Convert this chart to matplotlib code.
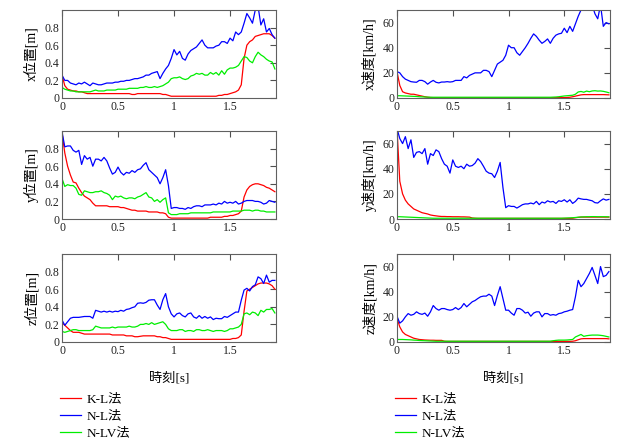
import numpy as np
import matplotlib
matplotlib.use('Agg')
import matplotlib.pyplot as plt
from matplotlib.ticker import FuncFormatter

plt.rcParams['font.family'] = ['Liberation Serif', 'Noto Sans CJK JP']

# time axis, 0.025 s steps
t = np.linspace(0, 1.9, 77)

# x position [m]
x_pos_kl = [0.26, 0.14, 0.10, 0.09, 0.08, 0.08, 0.07, 0.07, 0.06, 0.05,
            0.05, 0.05, 0.05, 0.05, 0.05, 0.05, 0.05, 0.05, 0.05, 0.05,
            0.05, 0.05, 0.05, 0.05, 0.05, 0.04, 0.04, 0.05, 0.05, 0.05,
            0.05, 0.05, 0.05, 0.05, 0.05, 0.05, 0.04, 0.04, 0.03, 0.02,
            0.02, 0.02, 0.02, 0.02, 0.02, 0.02, 0.02, 0.02, 0.02, 0.02,
            0.02, 0.02, 0.02, 0.02, 0.02, 0.02, 0.03, 0.03, 0.04, 0.04,
            0.05, 0.06, 0.07, 0.09, 0.15, 0.45, 0.60, 0.64, 0.66, 0.70,
            0.71, 0.72, 0.73, 0.73, 0.73, 0.71, 0.68]
x_pos_nl = [0.26, 0.20, 0.20, 0.17, 0.16, 0.15, 0.17, 0.16, 0.18, 0.16,
            0.14, 0.17, 0.16, 0.15, 0.15, 0.16, 0.17, 0.17, 0.17, 0.18,
            0.18, 0.19, 0.19, 0.20, 0.20, 0.21, 0.22, 0.22, 0.23, 0.24,
            0.26, 0.26, 0.28, 0.29, 0.30, 0.22, 0.28, 0.33, 0.37, 0.45,
            0.55, 0.49, 0.53, 0.45, 0.43, 0.50, 0.54, 0.56, 0.58, 0.62,
            0.66, 0.60, 0.57, 0.57, 0.57, 0.59, 0.60, 0.64, 0.64, 0.62,
            0.68, 0.65, 0.75, 0.72, 0.75, 0.85, 0.96, 0.91, 0.85, 1.00,
            1.04, 0.83, 0.90, 0.75, 0.79, 0.72, 0.68]
x_pos_nlv = [0.12, 0.10, 0.09, 0.08, 0.08, 0.07, 0.07, 0.07, 0.07, 0.07,
             0.07, 0.08, 0.09, 0.08, 0.08, 0.08, 0.09, 0.09, 0.09, 0.09,
             0.10, 0.10, 0.10, 0.10, 0.11, 0.11, 0.11, 0.11, 0.12, 0.12,
             0.13, 0.12, 0.12, 0.13, 0.12, 0.13, 0.14, 0.16, 0.18, 0.22,
             0.23, 0.23, 0.24, 0.22, 0.21, 0.22, 0.25, 0.26, 0.28, 0.27,
             0.28, 0.26, 0.26, 0.29, 0.27, 0.29, 0.26, 0.31, 0.27, 0.32,
             0.34, 0.34, 0.35, 0.37, 0.42, 0.47, 0.46, 0.42, 0.40, 0.47,
             0.52, 0.49, 0.47, 0.44, 0.42, 0.41, 0.33]

# x velocity [km/h]
x_vel_kl = [21, 10, 5, 4, 3.5, 3, 3, 2.5, 2, 1.5,
            1, 0.6, 0.4, 0.3, 0.3, 0.3, 0.3, 0.3, 0.3, 0.3,
            0.3, 0.3, 0.3, 0.3, 0.3, 0.3, 0.3, 0.3, 0.3, 0.3,
            0.3, 0.3, 0.3, 0.3, 0.3, 0.3, 0.3, 0.3, 0.3, 0.3,
            0.3, 0.3, 0.3, 0.3, 0.3, 0.3, 0.3, 0.3, 0.3, 0.3,
            0.3, 0.3, 0.3, 0.3, 0.3, 0.3, 0.3, 0.3, 0.3, 0.3,
            0.3, 0.4, 0.6, 1.0, 1.5, 2.0, 2.5, 2.7, 2.7, 2.7,
            2.7, 2.7, 2.7, 2.7, 2.7, 2.6, 2.5]
x_vel_nl = [21, 20, 17, 15, 14, 13, 12.7, 12.5, 14, 14,
            13, 11, 12.7, 14, 12.5, 12, 12.7, 12.7, 13, 12.7,
            13, 14, 14, 14, 17, 16, 18, 19, 20, 20,
            20, 22, 22, 21, 17, 22, 27, 28.5, 30, 34,
            42, 40, 40, 36, 34, 37, 40, 43.5, 47.5, 51,
            49, 46, 43.5, 45, 47, 43.5, 47.5, 50, 51, 51.5,
            55.5, 52, 57, 53, 59, 65, 70, 74, 71, 71,
            74, 67, 63, 74, 57, 60, 59]
x_vel_nlv = [1.8, 1.8, 1.7, 1.6, 1.5, 1.4, 1.3, 1.2, 1.0, 0.9,
             0.8, 0.7, 0.6, 0.6, 0.6, 0.6, 0.6, 0.6, 0.6, 0.6,
             0.6, 0.6, 0.6, 0.6, 0.6, 0.6, 0.6, 0.6, 0.6, 0.6,
             0.6, 0.6, 0.6, 0.6, 0.6, 0.6, 0.6, 0.6, 0.6, 0.6,
             0.6, 0.6, 0.6, 0.6, 0.6, 0.6, 0.6, 0.6, 0.6, 0.6,
             0.6, 0.6, 0.6, 0.6, 0.6, 0.6, 0.7, 0.8, 1.0, 1.3,
             1.6, 1.8, 2.0, 2.2, 3.0, 4.8, 5.2, 4.6, 5.5, 5.0,
             5.6, 5.8, 5.5, 5.6, 5.3, 4.8, 4.2]

# y position [m]
y_pos_kl = [0.98, 0.75, 0.60, 0.50, 0.42, 0.41, 0.35, 0.30, 0.26, 0.24,
            0.22, 0.18, 0.15, 0.15, 0.15, 0.15, 0.15, 0.14, 0.14, 0.14,
            0.14, 0.13, 0.13, 0.12, 0.11, 0.10, 0.10, 0.09, 0.09, 0.09,
            0.09, 0.08, 0.08, 0.08, 0.08, 0.07, 0.07, 0.06, 0.02, 0.01,
            0.01, 0.01, 0.01, 0.01, 0.01, 0.01, 0.01, 0.01, 0.01, 0.01,
            0.01, 0.01, 0.01, 0.02, 0.02, 0.02, 0.02, 0.02, 0.03, 0.03,
            0.04, 0.04, 0.05, 0.06, 0.09, 0.25, 0.33, 0.37, 0.39, 0.40,
            0.40, 0.39, 0.38, 0.36, 0.35, 0.33, 0.31]
y_pos_nl = [0.99, 0.82, 0.83, 0.83, 0.78, 0.76, 0.78, 0.62, 0.72, 0.68,
            0.70, 0.60, 0.68, 0.68, 0.66, 0.70, 0.66, 0.58, 0.51, 0.53,
            0.59, 0.53, 0.50, 0.53, 0.52, 0.55, 0.53, 0.56, 0.57, 0.61,
            0.64, 0.56, 0.53, 0.50, 0.47, 0.40, 0.47, 0.56, 0.38, 0.12,
            0.13, 0.13, 0.12, 0.12, 0.11, 0.13, 0.12, 0.14, 0.15, 0.15,
            0.14, 0.16, 0.16, 0.16, 0.17, 0.16, 0.18, 0.17, 0.20, 0.18,
            0.19, 0.18, 0.20, 0.17, 0.18, 0.20, 0.21, 0.21, 0.21, 0.20,
            0.20, 0.19, 0.17, 0.18, 0.21, 0.20, 0.19]
y_pos_nlv = [0.46, 0.37, 0.39, 0.38, 0.38, 0.35, 0.28, 0.27, 0.32, 0.31,
             0.30, 0.30, 0.31, 0.31, 0.32, 0.30, 0.29, 0.27, 0.22, 0.26,
             0.25, 0.26, 0.24, 0.23, 0.24, 0.24, 0.23, 0.25, 0.26, 0.28,
             0.30, 0.25, 0.24, 0.20, 0.22, 0.19, 0.22, 0.24, 0.07, 0.05,
             0.05, 0.05, 0.06, 0.06, 0.06, 0.06, 0.07, 0.07, 0.07, 0.07,
             0.07, 0.07, 0.07, 0.07, 0.08, 0.08, 0.08, 0.08, 0.08, 0.08,
             0.08, 0.09, 0.09, 0.09, 0.09, 0.10, 0.10, 0.10, 0.09, 0.10,
             0.10, 0.09, 0.09, 0.08, 0.08, 0.08, 0.08]

# y velocity [km/h]
y_vel_kl = [72, 30, 20, 15, 12, 10, 8, 7, 6, 5,
            4.5, 4, 3.2, 2.8, 2.5, 2.2, 2, 2, 1.9, 1.9,
            1.8, 1.8, 1.8, 1.7, 1.7, 1.6, 1.5, 0.8, 0.6, 0.5,
            0.5, 0.5, 0.5, 0.5, 0.5, 0.5, 0.5, 0.5, 0.5, 0.5,
            0.5, 0.5, 0.5, 0.5, 0.5, 0.5, 0.5, 0.5, 0.5, 0.5,
            0.5, 0.5, 0.5, 0.5, 0.5, 0.5, 0.5, 0.5, 0.5, 0.5,
            0.5, 0.5, 0.5, 0.6, 1.0, 1.3, 1.5, 1.5, 1.5, 1.5,
            1.5, 1.5, 1.5, 1.5, 1.5, 1.5, 1.5]
y_vel_nl = [72, 64, 60, 65.5, 56, 63, 49, 53, 53.6, 52,
            56, 43.6, 52, 50.5, 55, 53.6, 48, 43.6, 42, 36.5,
            47, 42, 41, 42, 40, 43.6, 42, 42.5, 44.4, 48,
            45.7, 42, 38, 36.5, 36, 33, 38, 45, 25, 9,
            10.6, 10, 10, 8.7, 10, 11.4, 12, 12, 12.7, 12,
            14, 11.4, 13.5, 12.7, 14.5, 13.5, 14, 12.4, 14.5, 14,
            15.3, 13.5, 15.3, 12.4, 14, 16.6, 16, 15.6, 15.6, 15,
            14.5, 13, 12.7, 14.5, 16, 15, 15.6]
y_vel_nlv = [1.8, 1.8, 1.7, 1.6, 1.5, 1.4, 1.3, 1.2, 1.1, 1.0,
             0.9, 0.8, 0.7, 0.6, 0.6, 0.6, 0.6, 0.6, 0.6, 0.6,
             0.6, 0.6, 0.6, 0.6, 0.6, 0.6, 0.6, 0.6, 0.6, 0.6,
             0.6, 0.6, 0.6, 0.6, 0.6, 0.6, 0.6, 0.6, 0.6, 0.6,
             0.6, 0.6, 0.6, 0.6, 0.6, 0.6, 0.6, 0.6, 0.6, 0.6,
             0.6, 0.6, 0.6, 0.6, 0.6, 0.6, 0.6, 0.6, 0.6, 0.6,
             0.7, 0.8, 0.9, 1.0, 1.2, 1.4, 1.6, 1.7, 1.8, 1.8,
             1.9, 1.9, 1.8, 1.8, 1.8, 1.8, 1.7]

# z position [m]
z_pos_kl = [0.22, 0.19, 0.16, 0.13, 0.11, 0.11, 0.11, 0.10, 0.09, 0.09,
            0.09, 0.09, 0.09, 0.09, 0.09, 0.09, 0.09, 0.09, 0.08, 0.08,
            0.08, 0.08, 0.08, 0.07, 0.07, 0.07, 0.06, 0.06, 0.065, 0.07,
            0.07, 0.07, 0.07, 0.07, 0.06, 0.06, 0.05, 0.05, 0.04, 0.03,
            0.03, 0.03, 0.03, 0.03, 0.03, 0.03, 0.03, 0.03, 0.03, 0.03,
            0.03, 0.03, 0.03, 0.03, 0.03, 0.03, 0.03, 0.03, 0.03, 0.03,
            0.03, 0.04, 0.04, 0.05, 0.08, 0.35, 0.58, 0.60, 0.62, 0.64,
            0.66, 0.67, 0.67, 0.67, 0.66, 0.64, 0.60]
z_pos_nl = [0.25, 0.19, 0.23, 0.27, 0.28, 0.28, 0.28, 0.285, 0.29, 0.29,
            0.29, 0.27, 0.36, 0.35, 0.34, 0.35, 0.34, 0.35, 0.34, 0.35,
            0.345, 0.36, 0.35, 0.37, 0.376, 0.39, 0.40, 0.44, 0.445, 0.44,
            0.45, 0.475, 0.48, 0.48, 0.42, 0.37, 0.48, 0.55, 0.40, 0.32,
            0.285, 0.32, 0.33, 0.30, 0.285, 0.32, 0.33, 0.285, 0.27, 0.30,
            0.27, 0.29, 0.27, 0.285, 0.255, 0.27, 0.265, 0.265, 0.29, 0.28,
            0.30, 0.32, 0.34, 0.34, 0.475, 0.59, 0.61, 0.58, 0.63, 0.65,
            0.74, 0.72, 0.665, 0.76, 0.68, 0.70, 0.70]
z_pos_nlv = [0.12, 0.11, 0.12, 0.13, 0.14, 0.14, 0.13, 0.13, 0.13, 0.13,
             0.13, 0.14, 0.18, 0.17, 0.16, 0.16, 0.16, 0.16, 0.17, 0.16,
             0.17, 0.17, 0.17, 0.17, 0.18, 0.17, 0.17, 0.18, 0.20, 0.20,
             0.21, 0.20, 0.22, 0.20, 0.21, 0.22, 0.23, 0.20, 0.15, 0.13,
             0.13, 0.13, 0.14, 0.14, 0.12, 0.13, 0.13, 0.12, 0.14, 0.14,
             0.13, 0.13, 0.14, 0.13, 0.12, 0.13, 0.13, 0.13, 0.12, 0.13,
             0.15, 0.15, 0.16, 0.17, 0.20, 0.32, 0.33, 0.31, 0.34, 0.33,
             0.30, 0.36, 0.34, 0.37, 0.37, 0.38, 0.33]

# z velocity [km/h]
z_vel_kl = [19, 12, 8, 6, 5, 4, 3, 2.5, 2, 1.8,
            1.6, 1.5, 1.4, 1.4, 1.3, 1.3, 1.3, 0.6, 0.5, 0.5,
            0.5, 0.5, 0.5, 0.5, 0.5, 0.5, 0.5, 0.5, 0.5, 0.5,
            0.5, 0.5, 0.5, 0.5, 0.5, 0.5, 0.5, 0.5, 0.5, 0.5,
            0.5, 0.5, 0.5, 0.5, 0.5, 0.5, 0.5, 0.5, 0.5, 0.5,
            0.5, 0.5, 0.5, 0.5, 0.5, 0.5, 0.5, 0.5, 0.5, 0.5,
            0.5, 0.5, 0.5, 0.6, 1.0, 1.8, 2.5, 2.7, 2.7, 2.7,
            2.7, 2.7, 2.7, 2.7, 2.7, 2.7, 2.5]
z_vel_nl = [20.5, 15, 16.8, 20, 22.6, 21.3, 22, 24, 22.6, 22,
            23, 20.5, 24, 29, 26.6, 25.3, 26.6, 26.6, 25.8, 25.3,
            25.8, 27.4, 25.8, 27.4, 30.6, 28, 30, 32, 33, 34.6,
            36, 36.5, 36.5, 38, 36.5, 29, 37, 44, 34.6, 25.3,
            25.3, 23, 21.3, 26.6, 26.6, 25.3, 23, 23.7, 20.5, 23,
            24, 24, 20, 22.6, 22.6, 21.3, 21.8, 21.3, 22.6, 23,
            24, 24.5, 25.3, 25.8, 36, 49, 44, 46.5, 50.5, 54.5,
            59.3, 53, 46.5, 60, 52, 53, 56]
z_vel_nlv = [2.0, 2.0, 2.0, 1.9, 1.8, 1.7, 1.5, 1.4, 1.2, 1.1,
             1.0, 0.9, 0.8, 0.7, 0.6, 0.6, 0.6, 0.6, 0.6, 0.6,
             0.6, 0.6, 0.6, 0.6, 0.6, 0.6, 0.6, 0.6, 0.6, 0.6,
             0.6, 0.6, 0.6, 0.6, 0.6, 0.6, 0.6, 0.6, 0.6, 0.6,
             0.6, 0.6, 0.6, 0.6, 0.6, 0.6, 0.6, 0.6, 0.6, 0.6,
             0.6, 0.6, 0.6, 0.6, 0.6, 0.6, 1.0, 1.3, 1.5, 1.5,
             1.5, 1.6, 1.8, 2.0, 4.0, 5.0, 6.0, 4.5, 5.0, 5.3,
             5.5, 5.5, 5.5, 5.3, 5.0, 4.5, 4.0]

method_names = ['K-L法', 'N-L法', 'N-LV法']
method_colors = ['#ff0000', '#0000ff', '#00ee00']

pos_ticks = [0, 0.2, 0.4, 0.6, 0.8]
vel_ticks = [0, 20, 40, 60]
time_ticks = [0, 0.5, 1, 1.5]

panels = [
    (0, 0, 'x位置[m]', 1.0, pos_ticks, (x_pos_kl, x_pos_nl, x_pos_nlv)),
    (0, 1, 'x速度[km/h]', 70, vel_ticks, (x_vel_kl, x_vel_nl, x_vel_nlv)),
    (1, 0, 'y位置[m]', 1.0, pos_ticks, (y_pos_kl, y_pos_nl, y_pos_nlv)),
    (1, 1, 'y速度[km/h]', 70, vel_ticks, (y_vel_kl, y_vel_nl, y_vel_nlv)),
    (2, 0, 'z位置[m]', 1.0, pos_ticks, (z_pos_kl, z_pos_nl, z_pos_nlv)),
    (2, 1, 'z速度[km/h]', 70, vel_ticks, (z_vel_kl, z_vel_nl, z_vel_nlv)),
]

W, H = 618, 441
fig = plt.figure(figsize=(W / 100, H / 100), dpi=100)

col_left = [62, 397]
col_width = [214, 213]
row_top = [10, 131, 254]
ax_height = 88

fmt = FuncFormatter(lambda v, pos: f'{v:g}')

for row, col, ylabel, ymax, yticks, series in panels:
    ax = fig.add_axes([col_left[col] / W, 1 - (row_top[row] + ax_height) / H,
                       col_width[col] / W, ax_height / H])
    lines = []
    for values, color, name in zip(series, method_colors, method_names):
        line, = ax.plot(t, values, color=color, lw=0.9, label=name)
        lines.append(line)

    ax.set_xlim(0, 1.91)
    ax.set_ylim(0, ymax)
    ax.set_xticks(time_ticks)
    ax.set_yticks(yticks)
    ax.xaxis.set_major_formatter(fmt)
    ax.yaxis.set_major_formatter(fmt)
    ax.tick_params(direction='in', length=4, width=0.8, color='#505050',
                   left=False, bottom=False, top=True, right=True,
                   labelsize=8.5, labelcolor='#222222', pad=2)
    for spine in ax.spines.values():
        spine.set_color('#606060')
        spine.set_linewidth(0.8)
    ax.set_ylabel(ylabel, fontsize=10, labelpad=4)

    if row == 2:
        ax.set_xlabel('時刻[s]', fontsize=9.5, labelpad=11)
        ax.legend(handles=lines, loc='upper left', frameon=False,
                  bbox_to_anchor=((col_left[col] - 2) / W, 1 - 393 / H),
                  bbox_transform=fig.transFigure, fontsize=9.5,
                  handlelength=1.6, handletextpad=0.45, labelspacing=0.36,
                  borderpad=0, borderaxespad=0)

fig.savefig('out.png', dpi=100)
